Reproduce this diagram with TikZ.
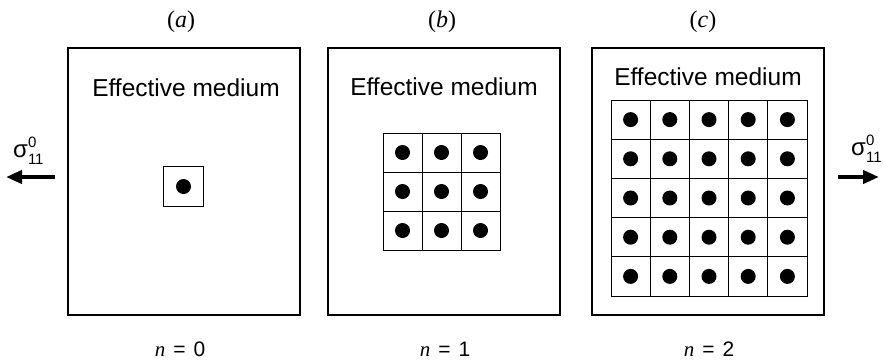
\documentclass[tikz,border=0pt]{standalone}
\usepackage{fontspec}
\setmainfont{Liberation Serif}
\newfontfamily\hv{Liberation Sans}
\usetikzlibrary{arrows.meta}
\tikzset{
  frame/.style={draw, line width=2pt, minimum width=232pt, minimum height=267pt, inner sep=0pt},
  cellgrid/.style={draw, line width=0.9pt},
  inclusion/.style={fill=black},
  medium/.style={font=\hv\fontsize{24.5}{25}\selectfont, inner sep=0pt},
  panel/.style={font=\fontsize{24}{24}\selectfont, inner sep=0pt},
  order/.style={font=\fontsize{21}{22}\selectfont, inner sep=0pt, anchor=base},
  load/.style={-{Triangle[length=16pt,width=13pt]}, line width=4pt},
  stress/.style={font=\hv\fontsize{24}{24}\selectfont, inner sep=0pt}
}
\newcommand{\stresslabel}{σ\rlap{\raisebox{0.42em}{\fontsize{15}{15}\selectfont 0}}\raisebox{-0.28em}{\fontsize{15}{15}\selectfont 11}}
\newcommand{\ordertext}[1]{\textit{n}\hspace{8pt}{\hv =\hspace{8pt}#1}}
\begin{document}
\begin{tikzpicture}[x=1pt, y=-1pt]
\useasboundingbox (0,0) rectangle (883,362);

% three frames of effective medium
\node[frame] (boxa) at (183.5,181) {};
\node[frame] (boxb) at (444,181) {};
\node[frame] (boxc) at (708,181) {};

% panel titles
\node[panel] (ta) at (181,22) {(\textit{a})};
\node[panel] (tb) at (442,22) {(\textit{b})};
\node[panel] (tc) at (703,22) {(\textit{c})};

% medium labels
\node[medium] (ma) at (186,88) {Effective medium};
\node[medium] (mb) at (444,87) {Effective medium};
\node[medium] (mc) at (708,77) {Effective medium};

% (a): single cell
\node[cellgrid, minimum width=40pt, minimum height=40pt, inner sep=0pt] (cella) at (183.5,186.5) {};
\fill[inclusion] (cella.center) circle (7.5pt);

% (b): 3x3 cells
\foreach \i in {0,1,2}{
  \foreach \j in {0,1,2}{
    \node[cellgrid, minimum width=39pt, minimum height=39pt, inner sep=0pt] (b\i\j) at ({383+19.5+39*\i},{133+19.5+39*\j}) {};
    \fill[inclusion] (b\i\j.center) circle (7.5pt);
  }
}

% (c): 5x5 cells
\foreach \i in {0,...,4}{
  \foreach \j in {0,...,4}{
    \node[cellgrid, minimum width=39.2pt, minimum height=39.2pt, inner sep=0pt] (c\i\j) at ({611+19.6+39.2*\i},{100+19.6+39.2*\j}) {};
    \fill[inclusion] (c\i\j.center) circle (7.5pt);
  }
}

% remote loading
\coordinate (la) at (55,177);
\coordinate (lb) at (6,177);
\coordinate (ra) at (838,177);
\coordinate (rb) at (879,177);
\draw[load] (la) -- (lb);
\draw[load] (ra) -- (rb);
\node[stress, anchor=west] (sl) at (13,151) {\stresslabel};
\node[stress, anchor=west] (sr) at (851,149) {\stresslabel};

% hierarchy order
\node[order] (na) at (180,356) {\ordertext{0}};
\node[order] (nb) at (445,356) {\ordertext{1}};
\node[order] (nc) at (709,356) {\ordertext{2}};
\end{tikzpicture}
\end{document}
